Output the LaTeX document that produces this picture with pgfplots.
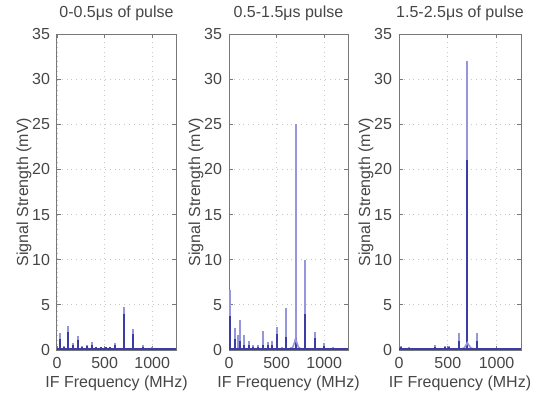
\documentclass[border=0pt]{standalone}
\usepackage{fontspec}
\setmainfont{Liberation Sans}
\usepackage{pgfplots}
\pgfplotsset{compat=1.18}
\definecolor{txt}{RGB}{70,70,70}
\definecolor{frame}{RGB}{120,120,120}
\definecolor{lightb}{RGB}{150,150,220}
\definecolor{darkb}{RGB}{60,60,165}
\newcommand{\f}{\fontsize{8}{9.6}\selectfont}
\pgfplotsset{
  panel/.style={
    scale only axis, anchor=south west,
    height=158pt,
    xmin=0, xmax=1250, ymin=0, ymax=35,
    xtick={0,500,1000}, ytick={0,5,...,35},
    grid=major,
    major grid style={dotted, gray!45, line width=0.4pt},
    axis line style={frame, line width=0.5pt},
    tick style={frame, line width=0.4pt},
    tick align=inside, major tick length=2pt,
    /pgf/number format/assume math mode=true,
    /pgf/number format/1000 sep={},
    ticklabel style={font=\f, text=txt},
    label style={font=\f, text=txt},
    title style={font=\f, text=txt, yshift=-3pt},
    xlabel={IF Frequency (MHz)},
    ylabel={Signal Strength (mV)},
    xlabel style={yshift=3pt},
    ylabel style={yshift=-6.5pt},
    clip=true,
  },
  lt/.style={ycomb, draw=lightb, line width=1.0pt, no marks},
  dk/.style={ycomb, draw=darkb, line width=1.0pt, no marks},
  bl/.style={draw=darkb, line width=0.8pt, no marks},
}
\begin{document}
\begin{tikzpicture}
\path[use as bounding box] (0,0) rectangle (267.5pt,196.5pt);
% Panel 1
\begin{axis}[panel, at={(28.5pt,21.5pt)}, width=59.5pt, title={0-0.5μs of pulse}]
\addplot[lt] coordinates {(28,1.9)(70,0.45)(119,2.7)(168,0.8)(217,1.55)(266,0.45)(315,0.5)(364,0.9)(413,0.35)(462,0.35)(510,0.35)(560,0.35)(608,0.75)(703,4.8)(800,2.3)(900,0.5)(1003,0.35)};
\addplot[dk] coordinates {(28,1.2)(70,0.35)(119,2.0)(168,0.6)(217,1.1)(266,0.35)(315,0.4)(364,0.6)(413,0.3)(462,0.3)(510,0.3)(560,0.3)(608,0.5)(703,4.0)(800,1.8)(900,0.3)(1003,0.2)};
\addplot[bl] coordinates {(0,0.1)(1250,0.1)};
\end{axis}
% Panel 2
\begin{axis}[panel, at={(114.5pt,21.5pt)}, width=59.5pt, title={0.5-1.5μs pulse}]
\addplot[lt] coordinates {(10,6.6)(63,2.4)(90,1.7)(113,3.3)(158,1.7)(208,1.0)(257,0.5)(306,0.5)(356,2.1)(405,0.9)(454,1.0)(504,2.5)(553,0.3)(602,4.6)(651,0.3)(700,25)(800,10)(900,2.0)(1000,0.8)(1090,0.3)};
\addplot[dk] coordinates {(10,3.8)(63,1.2)(113,1.0)(158,0.6)(208,0.5)(257,0.3)(306,0.3)(356,0.5)(405,0.5)(454,0.6)(504,1.8)(553,0.2)(602,1.4)(651,0.2)(700,1.3)(800,4.0)(900,1.3)(1000,0.4)(1090,0.2)};
\addplot[draw=lightb, line width=0.8pt, no marks] coordinates {(640,0.1)(670,0.3)(690,0.9)(700,1.3)(710,0.9)(730,0.3)(760,0.1)};
\addplot[bl] coordinates {(0,0.1)(1250,0.1)};
\end{axis}
% Panel 3
\begin{axis}[panel, at={(199.5pt,21.5pt)}, width=61pt, title={1.5-2.5μs of pulse}]
\addplot[lt] coordinates {(20,0.4)(104,0.3)(370,0.6)(467,0.4)(512,0.4)(612,1.9)(700,32)(802,1.9)(906,0.2)(1003,0.1)};
\addplot[dk] coordinates {(20,0.3)(104,0.2)(370,0.3)(467,0.3)(512,0.3)(612,1.0)(700,21)(802,1.0)(906,0.1)(1003,0.1)};
\addplot[draw=lightb, line width=0.8pt, no marks] coordinates {(640,0.1)(670,0.25)(690,0.6)(700,0.8)(712,0.6)(734,0.25)(764,0.1)};
\addplot[bl] coordinates {(0,0.1)(1250,0.1)};
\end{axis}
\end{tikzpicture}
\end{document}
